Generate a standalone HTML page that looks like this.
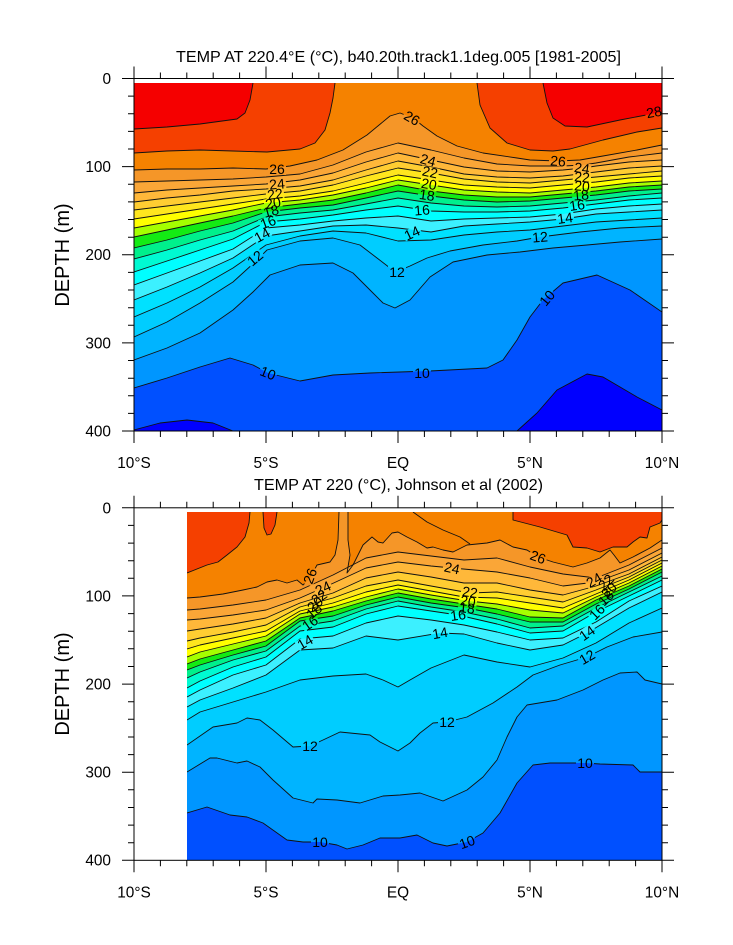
<!DOCTYPE html>
<html><head><meta charset="utf-8"><style>
html,body{margin:0;padding:0;background:#fff;}
svg{display:block;}
text{font-family:"Liberation Sans",Arial,sans-serif;fill:#000;}
.cl{fill:none;stroke:#111;stroke-width:0.9;stroke-linejoin:round;}
.lb{font-size:14px;text-anchor:middle;dominant-baseline:central;}
.tk{fill:none;stroke:#000;stroke-width:1;}
.tl{font-size:15.4px;}
</style></head><body>
<svg width="733" height="945" viewBox="0 0 733 945" xmlns="http://www.w3.org/2000/svg">
<defs>
<clipPath id="ct"><rect x="134" y="83" width="528" height="348"/></clipPath>
<clipPath id="cb"><rect x="187" y="512" width="475" height="348.5"/></clipPath>
<mask id="mt" maskUnits="userSpaceOnUse" x="0" y="0" width="733" height="945">
<rect width="733" height="945" fill="#fff"/>
<g fill="#000">
<rect x="-9" y="-6" width="18" height="12" transform="translate(277,169)"/>
<rect x="-9" y="-5" width="18" height="10" transform="translate(277,184) rotate(-5)"/>
<rect x="-9" y="-5" width="18" height="10" transform="translate(275,194) rotate(-8)"/>
<rect x="-9" y="-5" width="18" height="10" transform="translate(273,203) rotate(-10)"/>
<rect x="-9" y="-5" width="18" height="10" transform="translate(271,211) rotate(-15)"/>
<rect x="-9" y="-5" width="18" height="10" transform="translate(268,222) rotate(-20)"/>
<rect x="-9" y="-5" width="18" height="10" transform="translate(262,235) rotate(-28)"/>
<rect x="-9" y="-5" width="18" height="10" transform="translate(255,258) rotate(-40)"/>
<rect x="-9" y="-6" width="18" height="12" transform="translate(412,118) rotate(30)"/>
<rect x="-9" y="-5" width="18" height="10" transform="translate(428,160) rotate(15)"/>
<rect x="-9" y="-5" width="18" height="10" transform="translate(430,172) rotate(12)"/>
<rect x="-9" y="-5" width="18" height="10" transform="translate(429,184) rotate(10)"/>
<rect x="-9" y="-5" width="18" height="10" transform="translate(427,195) rotate(8)"/>
<rect x="-9" y="-5" width="18" height="10" transform="translate(422,210) rotate(-5)"/>
<rect x="-9" y="-5" width="18" height="10" transform="translate(412,233) rotate(-25)"/>
<rect x="-9" y="-6" width="18" height="12" transform="translate(397,272)"/>
<rect x="-9" y="-5" width="18" height="10" transform="translate(558,161) rotate(5)"/>
<rect x="-9" y="-5" width="18" height="10" transform="translate(582,168) rotate(8)"/>
<rect x="-9" y="-5" width="18" height="10" transform="translate(582,177) rotate(5)"/>
<rect x="-9" y="-5" width="18" height="10" transform="translate(582,186) rotate(5)"/>
<rect x="-9" y="-5" width="18" height="10" transform="translate(581,195) rotate(-5)"/>
<rect x="-9" y="-5" width="18" height="10" transform="translate(577,205) rotate(-8)"/>
<rect x="-9" y="-5" width="18" height="10" transform="translate(565,218) rotate(-8)"/>
<rect x="-9" y="-6" width="18" height="12" transform="translate(540,237) rotate(-5)"/>
<rect x="-9" y="-6" width="18" height="12" transform="translate(654,112) rotate(-10)"/>
<rect x="-9" y="-6" width="18" height="12" transform="translate(268,373) rotate(22)"/>
<rect x="-9" y="-6" width="18" height="12" transform="translate(422,373)"/>
<rect x="-9" y="-6" width="18" height="12" transform="translate(547,298) rotate(-50)"/>
</g>
</mask>
<mask id="mb" maskUnits="userSpaceOnUse" x="0" y="0" width="733" height="945">
<rect width="733" height="945" fill="#fff"/>
<g fill="#000">
<rect x="-9" y="-6" width="18" height="12" transform="translate(310,576) rotate(-70)"/>
<rect x="-9" y="-5" width="18" height="10" transform="translate(323,588) rotate(-25)"/>
<rect x="-9" y="-5" width="18" height="10" transform="translate(305,642) rotate(-30)"/>
<rect x="-9" y="-5" width="18" height="10" transform="translate(310,623) rotate(-35)"/>
<rect x="-9" y="-6" width="18" height="12" transform="translate(538,557) rotate(20)"/>
<rect x="-9" y="-6" width="18" height="12" transform="translate(452,568) rotate(12)"/>
<rect x="-9" y="-5" width="18" height="10" transform="translate(470,592) rotate(8)"/>
<rect x="-9" y="-5" width="18" height="10" transform="translate(468,601) rotate(8)"/>
<rect x="-9" y="-5" width="18" height="10" transform="translate(467,608) rotate(5)"/>
<rect x="-9" y="-5" width="18" height="10" transform="translate(458,615) rotate(-8)"/>
<rect x="-9" y="-6" width="18" height="12" transform="translate(440,633) rotate(-10)"/>
<rect x="-9" y="-5" width="18" height="10" transform="translate(594,580) rotate(-30)"/>
<rect x="-9" y="-5" width="18" height="10" transform="translate(597,612) rotate(-45)"/>
<rect x="-9" y="-6" width="18" height="12" transform="translate(587,633) rotate(-35)"/>
<rect x="-9" y="-6" width="18" height="12" transform="translate(587,657) rotate(-30)"/>
<rect x="-9" y="-6" width="18" height="12" transform="translate(310,746)"/>
<rect x="-9" y="-6" width="18" height="12" transform="translate(320,842)"/>
<rect x="-9" y="-6" width="18" height="12" transform="translate(447,722)"/>
<rect x="-9" y="-6" width="18" height="12" transform="translate(467,842) rotate(-20)"/>
<rect x="-9" y="-6" width="18" height="12" transform="translate(585,763)"/>
</g>
</mask>
</defs>

<!-- ================= TOP PANEL ================= -->
<g clip-path="url(#ct)">
<rect x="134" y="83" width="528" height="348" fill="#F50000"/>
<polygon fill="#F54000" points="134,129 167,127 200,124 237,119 245,113 250,100 253,83 543,83 547,103 553,118 565,126 587,127 620,120 662,112 662,431 134,431"/>
<polygon fill="#F58200" points="134,153 167,151 200,150 233,151 267,152 300,149 315,143 325,130 330,113 333,98 335,83 477,83 480,105 490,128 507,143 530,150 553,151 570,149 603,140 637,132 662,128 662,431 134,431"/>
<polygon fill="#F59628" points="134,170 167,169 200,169 233,168 266,169 290,166 317,160 343,150 367,135 390,116 400,113 413,118 423,126 437,136 457,146 483,153 517,158 530,160 558,161 580,160 603,156 637,150 662,145 662,431 134,431"/>
<polygon fill="#FAA637" points="134,182 167,181 200,180 233,179 266,177 300,174 333,165 366,152 398,143 431,150 464,158 497,164 530,166 563,166 583,165 596,163 629,157 662,153 662,431 134,431"/>
<polygon fill="#FFB83A" points="134,193 167,190 200,188 233,186 266,184 300,180 333,173 366,162 398,153 431,160 464,167 497,171 530,172 563,170 583,168 596,166 629,162 662,160 662,431 134,431"/>
<polygon fill="#FFCD32" points="134,202 167,198 200,195 233,191 266,189 300,186 333,180 366,170 398,161 431,167 464,174 497,177 530,178 563,176 596,172 629,168 662,166 662,431 134,431"/>
<polygon fill="#FFE61E" points="134,210 167,206 200,202 233,198 266,194 300,191 333,185 366,176 398,168 431,173 464,179 497,182 530,183 563,180 596,177 629,174 662,171 662,431 134,431"/>
<polygon fill="#FFFF00" points="134,219 167,214 200,209 233,204 266,199 300,196 333,191 366,183 398,175 431,180 464,185 497,187 530,188 563,185 596,182 629,178 662,176 662,431 134,431"/>
<polygon fill="#A5FF00" points="134,228 167,222 200,216 233,210 266,203 300,200 333,195 366,188 398,180 431,185 464,190 497,192 530,193 563,190 596,187 629,183 662,181 662,431 134,431"/>
<polygon fill="#14EB14" points="134,237 167,230 200,223 233,216 266,208 300,204 333,200 366,193 398,185 431,191 464,195 497,197 530,197 563,194 596,191 629,187 662,185 662,431 134,431"/>
<polygon fill="#00F08C" points="134,248 167,240 200,231 233,223 266,212 300,208 333,205 366,198 398,191 431,196 464,200 497,202 530,201 563,198 596,195 629,191 662,189 662,431 134,431"/>
<polygon fill="#00FAD2" points="134,259 167,250 200,240 233,231 266,217 300,213 333,210 366,204 398,198 431,203 464,206 497,207 530,206 563,203 596,200 629,196 662,193 662,431 134,431"/>
<polygon fill="#00FFFF" points="134,272 167,261 200,250 233,239 266,222 300,219 333,215 366,210 398,206 431,211 464,212 497,212 530,211 563,208 596,204 629,200 662,198 662,431 134,431"/>
<polygon fill="#3CF0FF" points="134,285 167,273 200,261 233,249 266,228 300,225 333,221 366,218 398,216 431,221 464,219 497,218 530,217 563,214 596,209 629,206 662,204 662,431 134,431"/>
<polygon fill="#00E1FF" points="134,300 167,287 200,273 233,258 266,236 300,231 333,226 366,225 398,228 431,232 464,226 497,224 530,222 563,219 596,214 629,212 662,210 662,431 134,431"/>
<polygon fill="#00CDFF" points="134,317 167,303 200,287 233,268 266,245 300,236 333,231 366,233 398,241 431,240 464,235 497,232 530,230 563,226 596,222 629,220 662,218 662,431 134,431"/>
<polygon fill="#00B4FF" points="134,337 167,322 200,303 233,282 255,262 267,250 300,241 333,238 360,245 377,258 390,268 398,271 410,266 427,258 450,251 483,245 517,241 540,237 580,232 620,228 662,226 662,431 134,431"/>
<polygon fill="#0096FF" points="134,360 167,348 200,333 233,310 253,292 270,275 300,265 333,263 353,273 370,290 383,303 395,308 410,300 430,277 453,262 487,255 520,252 553,248 587,245 620,242 662,239 662,431 134,431"/>
<polygon fill="#0050FF" points="134,388 167,378 200,367 230,358 253,365 268,373 300,381 333,375 370,373 430,371 487,368 503,360 517,340 530,317 543,300 563,283 597,275 630,290 662,312 662,431 134,431"/>
<polygon fill="#0000FF" points="134,430 160,423 187,420 213,423 233,431 517,431 537,413 557,390 587,374 603,377 637,397 662,410 662,431 134,431"/>

<g class="cl" mask="url(#mt)">
<path d="M134,129L167,127 200,124 237,119 245,113 250,100 253,83M543,83L547,103 553,118 565,126 587,127 620,120 662,112"/>
<path d="M134,153L167,151 200,150 233,151 267,152 300,149 315,143 325,130 330,113 333,98 335,83M477,83L480,105 490,128 507,143 530,150 553,151 570,149 603,140 637,132 662,128"/>
<path d="M134,170L167,169 200,169 233,168 266,169 290,166 317,160 343,150 367,135 390,116 400,113 413,118 423,126 437,136 457,146 483,153 517,158 530,160 558,161 580,160 603,156 637,150 662,145"/>
<path d="M134,182L167,181 200,180 233,179 266,177 300,174 333,165 366,152 398,143 431,150 464,158 497,164 530,166 563,166 583,165 596,163 629,157 662,153"/>
<path d="M134,193L167,190 200,188 233,186 266,184 300,180 333,173 366,162 398,153 431,160 464,167 497,171 530,172 563,170 583,168 596,166 629,162 662,160"/>
<path d="M134,202L167,198 200,195 233,191 266,189 300,186 333,180 366,170 398,161 431,167 464,174 497,177 530,178 563,176 596,172 629,168 662,166"/>
<path d="M134,210L167,206 200,202 233,198 266,194 300,191 333,185 366,176 398,168 431,173 464,179 497,182 530,183 563,180 596,177 629,174 662,171"/>
<path d="M134,219L167,214 200,209 233,204 266,199 300,196 333,191 366,183 398,175 431,180 464,185 497,187 530,188 563,185 596,182 629,178 662,176"/>
<path d="M134,228L167,222 200,216 233,210 266,203 300,200 333,195 366,188 398,180 431,185 464,190 497,192 530,193 563,190 596,187 629,183 662,181"/>
<path d="M134,237L167,230 200,223 233,216 266,208 300,204 333,200 366,193 398,185 431,191 464,195 497,197 530,197 563,194 596,191 629,187 662,185"/>
<path d="M134,248L167,240 200,231 233,223 266,212 300,208 333,205 366,198 398,191 431,196 464,200 497,202 530,201 563,198 596,195 629,191 662,189"/>
<path d="M134,259L167,250 200,240 233,231 266,217 300,213 333,210 366,204 398,198 431,203 464,206 497,207 530,206 563,203 596,200 629,196 662,193"/>
<path d="M134,272L167,261 200,250 233,239 266,222 300,219 333,215 366,210 398,206 431,211 464,212 497,212 530,211 563,208 596,204 629,200 662,198"/>
<path d="M134,285L167,273 200,261 233,249 266,228 300,225 333,221 366,218 398,216 431,221 464,219 497,218 530,217 563,214 596,209 629,206 662,204"/>
<path d="M134,300L167,287 200,273 233,258 266,236 300,231 333,226 366,225 398,228 431,232 464,226 497,224 530,222 563,219 596,214 629,212 662,210"/>
<path d="M134,317L167,303 200,287 233,268 266,245 300,236 333,231 366,233 398,241 431,240 464,235 497,232 530,230 563,226 596,222 629,220 662,218"/>
<path d="M134,337L167,322 200,303 233,282 255,262 267,250 300,241 333,238 360,245 377,258 390,268 398,271 410,266 427,258 450,251 483,245 517,241 540,237 580,232 620,228 662,226"/>
<path d="M134,360L167,348 200,333 233,310 253,292 270,275 300,265 333,263 353,273 370,290 383,303 395,308 410,300 430,277 453,262 487,255 520,252 553,248 587,245 620,242 662,239"/>
<path d="M134,388L167,378 200,367 230,358 253,365 268,373 300,381 333,375 370,373 430,371 487,368 503,360 517,340 530,317 543,300 563,283 597,275 630,290 662,312"/>
<path d="M134,430L160,423 187,420 213,423 233,431M517,431L537,413 557,390 587,374 603,377 637,397 662,410"/>
</g>
</g>
<g class="lb">
<text class="lb" transform="translate(277,169)">26</text>
<text class="lb" transform="translate(277,184) rotate(-5)">24</text>
<text class="lb" transform="translate(275,194) rotate(-8)">22</text>
<text class="lb" transform="translate(273,203) rotate(-10)">20</text>
<text class="lb" transform="translate(271,211) rotate(-15)">18</text>
<text class="lb" transform="translate(268,222) rotate(-20)">16</text>
<text class="lb" transform="translate(262,235) rotate(-28)">14</text>
<text class="lb" transform="translate(255,258) rotate(-40)">12</text>
<text class="lb" transform="translate(412,118) rotate(30)">26</text>
<text class="lb" transform="translate(428,160) rotate(15)">24</text>
<text class="lb" transform="translate(430,172) rotate(12)">22</text>
<text class="lb" transform="translate(429,184) rotate(10)">20</text>
<text class="lb" transform="translate(427,195) rotate(8)">18</text>
<text class="lb" transform="translate(422,210) rotate(-5)">16</text>
<text class="lb" transform="translate(412,233) rotate(-25)">14</text>
<text class="lb" transform="translate(397,272)">12</text>
<text class="lb" transform="translate(558,161) rotate(5)">26</text>
<text class="lb" transform="translate(582,168) rotate(8)">24</text>
<text class="lb" transform="translate(582,177) rotate(5)">22</text>
<text class="lb" transform="translate(582,186) rotate(5)">20</text>
<text class="lb" transform="translate(581,195) rotate(-5)">18</text>
<text class="lb" transform="translate(577,205) rotate(-8)">16</text>
<text class="lb" transform="translate(565,218) rotate(-8)">14</text>
<text class="lb" transform="translate(540,237) rotate(-5)">12</text>
<text class="lb" transform="translate(654,112) rotate(-10)">28</text>
<text class="lb" transform="translate(268,373) rotate(22)">10</text>
<text class="lb" transform="translate(422,373)">10</text>
<text class="lb" transform="translate(547,298) rotate(-50)">10</text>
</g>

<!-- top axes -->
<rect x="134" y="78.5" width="528" height="352.5" fill="none" stroke="#000" stroke-width="1"/>
<path class="tk" d="M134,78.5v-12M266,78.5v-12M398,78.5v-12M530,78.5v-12M662,78.5v-12
M160.4,78.5v-6M186.8,78.5v-6M213.2,78.5v-6M239.6,78.5v-6M292.4,78.5v-6M318.8,78.5v-6M345.2,78.5v-6M371.6,78.5v-6M424.4,78.5v-6M450.8,78.5v-6M477.2,78.5v-6M503.6,78.5v-6M556.4,78.5v-6M582.8,78.5v-6M609.2,78.5v-6M635.6,78.5v-6
M134,431v12M266,431v12M398,431v12M530,431v12M662,431v12
M160.4,431v6M186.8,431v6M213.2,431v6M239.6,431v6M292.4,431v6M318.8,431v6M345.2,431v6M371.6,431v6M424.4,431v6M450.8,431v6M477.2,431v6M503.6,431v6M556.4,431v6M582.8,431v6M609.2,431v6M635.6,431v6
M134,78.5h-12M134,166.6h-12M134,254.8h-12M134,342.9h-12M134,431h-12
M134,96.1h-6M134,113.8h-6M134,131.4h-6M134,149h-6M134,184.3h-6M134,201.9h-6M134,219.5h-6M134,237.2h-6M134,272.4h-6M134,290h-6M134,307.7h-6M134,325.3h-6M134,360.5h-6M134,378.2h-6M134,395.8h-6M134,413.4h-6
M662,78.5h12M662,166.6h12M662,254.8h12M662,342.9h12M662,431h12
M662,96.1h6M662,113.8h6M662,131.4h6M662,149h6M662,184.3h6M662,201.9h6M662,219.5h6M662,237.2h6M662,272.4h6M662,290h6M662,307.7h6M662,325.3h6M662,360.5h6M662,378.2h6M662,395.8h6M662,413.4h6"/>
<g class="tl" text-anchor="end">
<text x="111" y="84">0</text>
<text x="111" y="172">100</text>
<text x="111" y="260.2">200</text>
<text x="111" y="348.3">300</text>
<text x="111" y="436.4">400</text>
</g>
<g class="tl" text-anchor="middle">
<text x="134" y="468">10°S</text>
<text x="266" y="468">5°S</text>
<text x="398" y="468">EQ</text>
<text x="530" y="468">5°N</text>
<text x="662" y="468">10°N</text>
</g>
<text x="398.5" y="62" font-size="16" text-anchor="middle" textLength="445" lengthAdjust="spacingAndGlyphs">TEMP AT 220.4°E (°C), b40.20th.track1.1deg.005 [1981-2005]</text>
<text transform="translate(69,255) rotate(-90)" font-size="20" text-anchor="middle">DEPTH (m)</text>

<!-- ================= BOTTOM PANEL ================= -->
<g clip-path="url(#cb)">
<rect x="187" y="512" width="475" height="349" fill="#F54000"/>
<polygon fill="#F58200" points="187,573 207,565 218,562 227,555 237,547 245,537 249,523 250,512 513,512 513,520 540,527 567,535 573,547 587,548 600,552 613,547 627,547 633,542 640,537 647,538 650,527 660,523 662,520 662,861 187,861"/>
<polygon fill="#F54000" points="263,512 264,528 267,535 271,534 275,525 277,512"/>
<polygon fill="#F59628" points="187,598 200,597 223,594 243,590 257,587 267,582 277,580 287,583 297,580 303,585 310,578 317,565 330,562 335,555 338,540 339,512 348,512 348,540 350,555 347,573 353,565 363,545 372,537 378,542 383,543 392,533 398,532 407,537 417,542 427,548 433,547 443,550 453,552 467,545 487,543 500,540 513,547 527,550 538,557 553,562 573,567 587,563 600,558 610,550 614,555 620,563 633,557 650,548 662,540 662,861 187,861"/>
<polygon fill="#FAA637" points="187,610 200,609 233,605 266,600 300,590 333,575 366,558 398,552 431,556 464,560 497,558 530,567 563,574 596,578 629,565 662,548 662,861 187,861"/>
<polygon fill="#FFB83A" points="187,620 200,619 233,615 266,610 300,598 325,587 366,568 398,562 431,566 452,568 497,572 530,578 563,586 596,582 629,570 662,553 662,861 187,861"/>
<polygon fill="#FFCD32" points="187,631 200,629 233,624 266,618 300,603 333,593 366,578 398,572 431,577 464,583 497,583 530,590 563,595 596,586 629,574 662,557 662,861 187,861"/>
<polygon fill="#FFE61E" points="187,641 200,638 233,632 266,625 300,607 333,598 366,586 398,580 431,586 470,593 497,592 530,597 563,602 596,590 629,577 662,560 662,861 187,861"/>
<polygon fill="#FFFF00" points="187,649 200,645 233,638 266,631 300,611 333,603 366,592 398,585 431,591 464,597 497,598 530,603 563,608 596,594 629,580 662,563 662,861 187,861"/>
<polygon fill="#A5FF00" points="187,657 200,652 233,644 266,636 300,614 333,607 366,597 398,589 431,595 468,601 497,604 530,610 563,613 596,597 629,583 662,566 662,861 187,861"/>
<polygon fill="#14EB14" points="187,664 200,659 233,650 266,641 300,618 333,611 366,601 398,593 431,599 464,604 497,609 530,617 563,618 596,600 629,586 662,569 662,861 187,861"/>
<polygon fill="#00F08C" points="187,670 200,665 233,655 266,646 300,621 333,616 366,605 398,597 431,603 467,608 497,614 530,622 563,622 596,604 629,589 662,572 662,861 187,861"/>
<polygon fill="#00FAD2" points="187,678 200,672 233,660 266,651 300,626 333,621 366,609 398,601 431,607 464,612 497,619 530,628 563,626 596,608 629,592 662,576 662,861 187,861"/>
<polygon fill="#00FFFF" points="187,688 200,681 233,667 266,657 300,631 333,627 366,614 398,606 431,611 458,615 497,624 530,633 563,631 596,612 629,596 662,580 662,861 187,861"/>
<polygon fill="#3CF0FF" points="187,697 200,690 233,675 266,665 300,639 333,636 366,623 398,616 431,620 464,625 497,632 530,640 563,638 596,622 629,601 662,586 662,861 187,861"/>
<polygon fill="#00E1FF" points="187,707 200,700 233,688 266,675 300,650 333,648 366,636 398,640 440,633 464,634 497,643 530,650 563,645 587,633 629,608 662,592 662,861 187,861"/>
<polygon fill="#00CDFF" points="187,720 200,712 233,702 266,692 300,680 333,676 366,674 383,680 398,687 410,680 431,668 464,655 497,662 530,667 563,658 596,643 629,623 662,608 662,861 187,861"/>
<polygon fill="#00B4FF" points="187,745 213,727 237,723 247,718 260,720 273,730 293,747 310,746 323,740 340,732 370,735 380,742 398,751 410,743 420,733 433,723 447,722 467,717 493,703 517,687 533,675 560,665 587,657 607,647 633,637 662,632 662,861 187,861"/>
<polygon fill="#0096FF" points="187,772 210,758 217,758 237,763 247,761 260,767 273,780 293,798 313,803 317,799 337,800 360,803 383,796 400,795 420,793 443,801 467,790 483,777 497,760 507,737 517,717 527,705 557,700 583,690 603,680 620,673 637,672 645,680 662,684 662,861 187,861"/>
<polygon fill="#0050FF" points="187,813 207,807 230,815 247,817 263,823 287,840 303,842 320,842 337,845 347,849 363,845 380,838 400,838 417,835 433,843 447,846 467,842 483,833 500,813 517,783 533,765 550,763 585,763 600,764 633,765 640,772 662,772 662,861 187,861"/>

<g class="cl" mask="url(#mb)">
<path d="M187,573L207,565 218,562 227,555 237,547 245,537 249,523 250,512M513,512L513,520 540,527 567,535 573,547 587,548 600,552 613,547 627,547 633,542 640,537 647,538 650,527 660,523 662,520"/>
<path d="M263,512L264,528 267,535 271,534 275,525 277,512"/>
<path d="M187,598L200,597 223,594 243,590 257,587 267,582 277,580 287,583 297,580 303,585 310,578 317,565 330,562 335,555 338,540 339,512M348,512L348,540 350,555 347,573 353,565 363,545 372,537 378,542 383,543 392,533 398,532 407,537 417,542 427,548 433,547 443,550 453,552 467,545 487,543 500,540 513,547 527,550 538,557 553,562 573,567 587,563 600,558 610,550 614,555 620,563 633,557 650,548 662,540"/>
<path d="M413,512L427,522 443,530 460,537 470,544"/>
<path d="M187,610L200,609 233,605 266,600 300,590 333,575 366,558 398,552 431,556 464,560 497,558 530,567 563,574 596,578 629,565 662,548"/>
<path d="M187,620L200,619 233,615 266,610 300,598 325,587 366,568 398,562 431,566 452,568 497,572 530,578 563,586 596,582 629,570 662,553"/>
<path d="M187,631L200,629 233,624 266,618 300,603 333,593 366,578 398,572 431,577 464,583 497,583 530,590 563,595 596,586 629,574 662,557"/>
<path d="M187,641L200,638 233,632 266,625 300,607 333,598 366,586 398,580 431,586 470,593 497,592 530,597 563,602 596,590 629,577 662,560"/>
<path d="M187,649L200,645 233,638 266,631 300,611 333,603 366,592 398,585 431,591 464,597 497,598 530,603 563,608 596,594 629,580 662,563"/>
<path d="M187,657L200,652 233,644 266,636 300,614 333,607 366,597 398,589 431,595 468,601 497,604 530,610 563,613 596,597 629,583 662,566"/>
<path d="M187,664L200,659 233,650 266,641 300,618 333,611 366,601 398,593 431,599 464,604 497,609 530,617 563,618 596,600 629,586 662,569"/>
<path d="M187,670L200,665 233,655 266,646 300,621 333,616 366,605 398,597 431,603 467,608 497,614 530,622 563,622 596,604 629,589 662,572"/>
<path d="M187,678L200,672 233,660 266,651 300,626 333,621 366,609 398,601 431,607 464,612 497,619 530,628 563,626 596,608 629,592 662,576"/>
<path d="M187,688L200,681 233,667 266,657 300,631 333,627 366,614 398,606 431,611 458,615 497,624 530,633 563,631 596,612 629,596 662,580"/>
<path d="M187,697L200,690 233,675 266,665 300,639 333,636 366,623 398,616 431,620 464,625 497,632 530,640 563,638 596,622 629,601 662,586"/>
<path d="M187,707L200,700 233,688 266,675 300,650 333,648 366,636 398,640 440,633 464,634 497,643 530,650 563,645 587,633 629,608 662,592"/>
<path d="M187,720L200,712 233,702 266,692 300,680 333,676 366,674 383,680 398,687 410,680 431,668 464,655 497,662 530,667 563,658 596,643 629,623 662,608"/>
<path d="M187,745L213,727 237,723 247,718 260,720 273,730 293,747 310,746 323,740 340,732 370,735 380,742 398,751 410,743 420,733 433,723 447,722 467,717 493,703 517,687 533,675 560,665 587,657 607,647 633,637 662,632"/>
<path d="M187,772L210,758 217,758 237,763 247,761 260,767 273,780 293,798 313,803 317,799 337,800 360,803 383,796 400,795 420,793 443,801 467,790 483,777 497,760 507,737 517,717 527,705 557,700 583,690 603,680 620,673 637,672 645,680 662,684"/>
<path d="M187,813L207,807 230,815 247,817 263,823 287,840 303,842 320,842 337,845 347,849 363,845 380,838 400,838 417,835 433,843 447,846 467,842 483,833 500,813 517,783 533,765 550,763 585,763 600,764 633,765 640,772 662,772"/>
</g>
</g>
<g>
<text class="lb" transform="translate(310,576) rotate(-70)">26</text>
<text class="lb" transform="translate(323,588) rotate(-25)">24</text>
<text class="lb" transform="translate(319,597) rotate(-35)">22</text>
<text class="lb" transform="translate(315,604) rotate(-40)">20</text>
<text class="lb" transform="translate(314,611) rotate(-40)">18</text>
<text class="lb" transform="translate(310,623) rotate(-35)">16</text>
<text class="lb" transform="translate(305,642) rotate(-30)">14</text>
<text class="lb" transform="translate(538,557) rotate(20)">26</text>
<text class="lb" transform="translate(452,568) rotate(12)">24</text>
<text class="lb" transform="translate(470,592) rotate(8)">22</text>
<text class="lb" transform="translate(468,601) rotate(8)">20</text>
<text class="lb" transform="translate(467,608) rotate(5)">18</text>
<text class="lb" transform="translate(458,615) rotate(-8)">16</text>
<text class="lb" transform="translate(440,633) rotate(-10)">14</text>
<text class="lb" transform="translate(594,580) rotate(-30)">24</text>
<text class="lb" transform="translate(606,582) rotate(-45)">22</text>
<text class="lb" transform="translate(609,590) rotate(-45)">20</text>
<text class="lb" transform="translate(606,598) rotate(-45)">18</text>
<text class="lb" transform="translate(597,612) rotate(-45)">16</text>
<text class="lb" transform="translate(587,633) rotate(-35)">14</text>
<text class="lb" transform="translate(587,657) rotate(-30)">12</text>
<text class="lb" transform="translate(310,746)">12</text>
<text class="lb" transform="translate(320,842)">10</text>
<text class="lb" transform="translate(447,722)">12</text>
<text class="lb" transform="translate(467,842) rotate(-20)">10</text>
<text class="lb" transform="translate(585,763)">10</text>
</g>

<!-- bottom axes -->
<g transform="translate(0,429.3)">
<rect x="134" y="78.5" width="528" height="352.5" fill="none" stroke="#000" stroke-width="1"/>
<path class="tk" d="M134,78.5v-12M266,78.5v-12M398,78.5v-12M530,78.5v-12M662,78.5v-12
M160.4,78.5v-6M186.8,78.5v-6M213.2,78.5v-6M239.6,78.5v-6M292.4,78.5v-6M318.8,78.5v-6M345.2,78.5v-6M371.6,78.5v-6M424.4,78.5v-6M450.8,78.5v-6M477.2,78.5v-6M503.6,78.5v-6M556.4,78.5v-6M582.8,78.5v-6M609.2,78.5v-6M635.6,78.5v-6
M134,431v12M266,431v12M398,431v12M530,431v12M662,431v12
M160.4,431v6M186.8,431v6M213.2,431v6M239.6,431v6M292.4,431v6M318.8,431v6M345.2,431v6M371.6,431v6M424.4,431v6M450.8,431v6M477.2,431v6M503.6,431v6M556.4,431v6M582.8,431v6M609.2,431v6M635.6,431v6
M134,78.5h-12M134,166.6h-12M134,254.8h-12M134,342.9h-12M134,431h-12
M134,96.1h-6M134,113.8h-6M134,131.4h-6M134,149h-6M134,184.3h-6M134,201.9h-6M134,219.5h-6M134,237.2h-6M134,272.4h-6M134,290h-6M134,307.7h-6M134,325.3h-6M134,360.5h-6M134,378.2h-6M134,395.8h-6M134,413.4h-6
M662,78.5h12M662,166.6h12M662,254.8h12M662,342.9h12M662,431h12
M662,96.1h6M662,113.8h6M662,131.4h6M662,149h6M662,184.3h6M662,201.9h6M662,219.5h6M662,237.2h6M662,272.4h6M662,290h6M662,307.7h6M662,325.3h6M662,360.5h6M662,378.2h6M662,395.8h6M662,413.4h6"/>
</g>
<g class="tl" text-anchor="end">
<text x="111" y="513.3">0</text>
<text x="111" y="601.3">100</text>
<text x="111" y="689.5">200</text>
<text x="111" y="777.6">300</text>
<text x="111" y="865.7">400</text>
</g>
<g class="tl" text-anchor="middle">
<text x="134" y="897.3">10°S</text>
<text x="266" y="897.3">5°S</text>
<text x="398" y="897.3">EQ</text>
<text x="530" y="897.3">5°N</text>
<text x="662" y="897.3">10°N</text>
</g>
<text x="398.5" y="490" font-size="16" text-anchor="middle" textLength="289" lengthAdjust="spacingAndGlyphs">TEMP AT 220 (°C), Johnson et al (2002)</text>
<text transform="translate(69,684) rotate(-90)" font-size="20" text-anchor="middle">DEPTH (m)</text>
</svg>
</body></html>
